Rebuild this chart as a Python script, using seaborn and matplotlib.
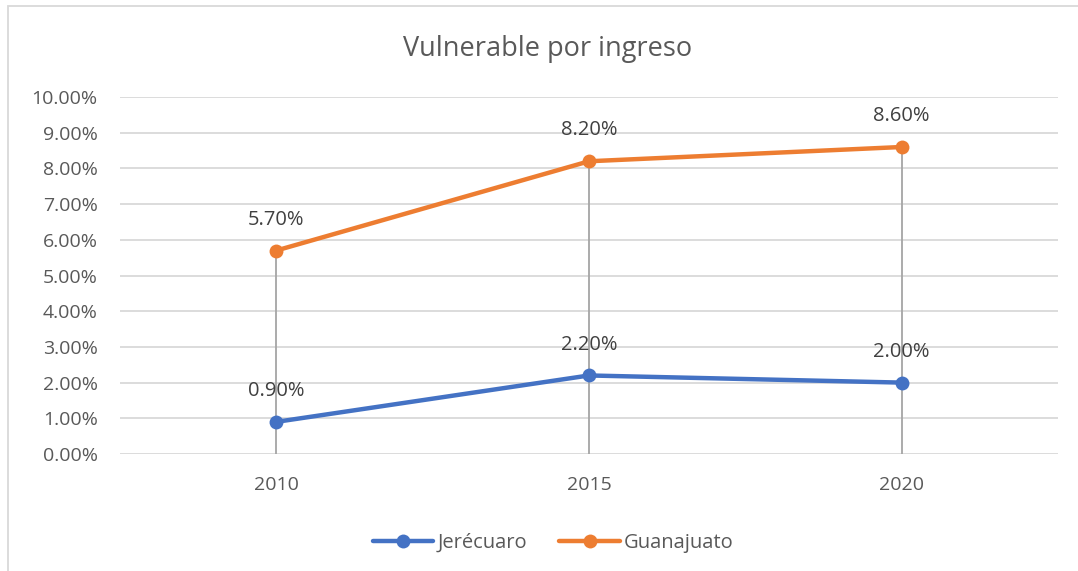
import pandas as pd
import matplotlib.pyplot as plt
import seaborn as sns
from matplotlib.patches import Rectangle

# datos
anios = ['2010', '2015', '2020']
jerecuaro = [0.009, 0.022, 0.020]
guanajuato = [0.057, 0.082, 0.086]
series = ['Jerécuaro', 'Guanajuato']
colores = ['#4472C4', '#ED7D31']

df = pd.DataFrame({
    'anio': anios * 2,
    'x': list(range(len(anios))) * 2,
    'valor': jerecuaro + guanajuato,
    'serie': [series[0]] * 3 + [series[1]] * 3,
})

sns.set_style('white')
plt.rcParams['font.family'] = ['Open Sans', 'DejaVu Sans']

fig = plt.figure(figsize=(10.78, 5.71), dpi=100)
ax = fig.add_axes([0.1113, 0.2049, 0.8701, 0.6252])

# lineas de caida (de max a 0)
maximos = df.groupby('x')['valor'].max()
ax.vlines(maximos.index, 0, maximos.values, color='#A5A5A5', lw=1.3, zorder=1)

sns.lineplot(data=df, x='x', y='valor', hue='serie', palette=colores,
             marker='o', markersize=10, markeredgewidth=0, lw=3.2, ax=ax,
             zorder=3)

# etiquetas de datos
for _, r in df.iterrows():
    ax.annotate(f"{r['valor']*100:.2f}%", (r['x'], r['valor']),
                xytext=(0, 15), textcoords='offset points', ha='center',
                va='bottom', fontsize=14.5, color='#404040')

ax.set_xlim(-0.5, 2.5)
ax.set_ylim(0, 0.10)
ax.set_yticks([i / 100 for i in range(11)])
ax.set_yticklabels([f'{i:.2f}%' for i in range(11)])
ax.set_xticks(range(len(anios)))
ax.set_xticklabels(anios)
ax.tick_params(axis='both', colors='#595959', labelsize=14, length=0)
ax.tick_params(axis='x', pad=16)
ax.tick_params(axis='y', pad=16)
ax.grid(axis='y', color='#D9D9D9', lw=1.3)
ax.set_axisbelow(True)
for s in ax.spines.values():
    s.set_visible(False)
ax.set_xlabel('')
ax.set_ylabel('')

fig.text(0.508, 0.915, 'Vulnerable por ingreso', ha='center', va='center',
         fontsize=19.5, color='#595959')

leg = ax.legend(loc='upper center', bbox_to_anchor=(0.462, -0.17), ncol=2,
                frameon=False, fontsize=14.5, handlelength=3.0,
                columnspacing=1.6, handletextpad=0.2, labelcolor='#595959')

# marco del grafico
fig.patches.append(Rectangle((8 / 1078, -0.05), 1.1, 1 - 6 / 571 + 0.05,
                             transform=fig.transFigure, fill=False,
                             ec='#D9D9D9', lw=1.3))

fig.savefig('out.png', dpi=100)
